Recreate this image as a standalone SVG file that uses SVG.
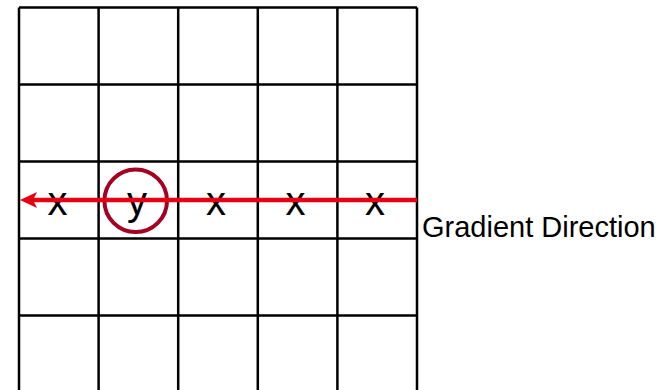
<svg xmlns="http://www.w3.org/2000/svg" width="668" height="390" viewBox="0 0 668 390">
<style>
.grid{stroke:#000;stroke-width:2.5;fill:none}
.lbl{font-family:"Liberation Sans",Arial,sans-serif;font-size:40px;fill:#000;text-anchor:middle}
.cap{font-family:"Liberation Sans",Arial,sans-serif;font-size:29px;fill:#000}
</style>
<rect width="668" height="390" fill="#fff"/>
<g id="grid" class="grid">
<path d="M19,7.5V400M98.6,7.5V400M178.2,7.5V400M257.8,7.5V400M337.4,7.5V400M417,7.5V400"/>
<path d="M19,7.5H417M19,84.5H417M19,161.5H417M19,238.5H417M19,315.5H417"/>
</g>
<g id="cells">
<text class="lbl" x="57.5" y="215">x</text>
<text class="lbl" x="137" y="215">y</text>
<text class="lbl" x="216" y="215">x</text>
<text class="lbl" x="295.5" y="215">x</text>
<text class="lbl" x="375" y="215">x</text>
</g>
<g id="highlight">
<circle cx="135.7" cy="200.7" r="31.3" fill="none" stroke="#A50021" stroke-width="4"/>
</g>
<g id="connectors">
<line x1="417" y1="200" x2="32" y2="200" stroke="#E60012" stroke-width="4.5"/>
<path d="M20,200 L37,192 L33,200 L37,208 Z" fill="#E60012"/>
</g>
<g id="caption">
<text class="cap" x="422" y="236.5">Gradient Direction</text>
</g>
</svg>
